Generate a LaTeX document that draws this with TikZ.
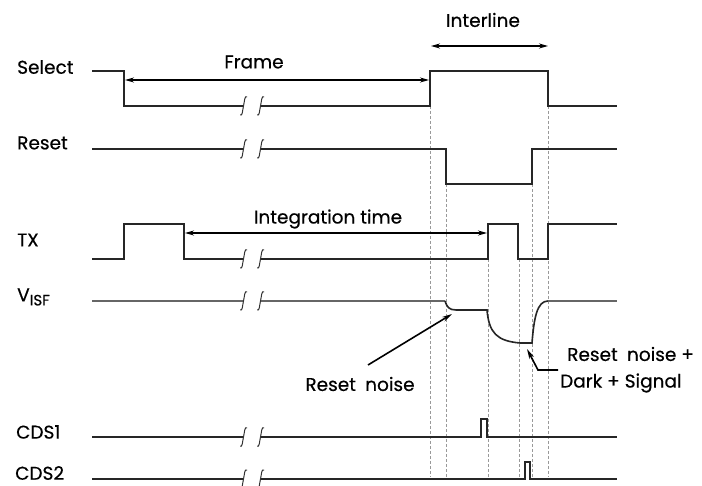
\documentclass[tikz,border=0pt]{standalone}
\usepackage{fontspec}
\setmainfont{Poppins}[FakeBold=0.4]
\usetikzlibrary{arrows.meta}
\begin{document}
\begin{tikzpicture}[x=1pt,y=-1pt,
  sig/.style={line width=1.7pt, draw=black!85, line join=miter},
  sigthick/.style={line width=2.2pt, draw=black!85},
  vsig/.style={line width=1.6pt, draw=black!60},
  vdark/.style={line width=1.6pt, draw=black!85},
  guide/.style={densely dashed, line width=0.5pt, draw=black!40},
  brkmark/.style={line width=1pt, draw=black!80},
  dim/.style={line width=1.3pt, draw=black, {Stealth[length=9pt,width=5pt]}-{Stealth[length=9pt,width=5pt]}},
  callout/.style={line width=1.6pt, draw=black, -{Stealth[length=10pt,width=5pt]}},
  lbl/.style={font=\fontsize{18.5}{21}\selectfont, inner sep=0pt, anchor=west},
  txt/.style={font=\fontsize{18.5}{21}\selectfont, inner sep=0pt}]
\useasboundingbox (0,0) rectangle (702,486);
\fill[white] (0,0) rectangle (702,486);

% break marks
\newcommand{\brkat}[1]{%
  \draw[brkmark] (240,#1+9) .. controls (242.5,#1+11) and (242.5,#1+4) .. (243.5,#1) .. controls (244.5,#1-4) and (244.5,#1-11) .. (247,#1-9);
  \draw[brkmark] (257,#1+9) .. controls (259.5,#1+11) and (259.5,#1+4) .. (260.5,#1) .. controls (261.5,#1-4) and (261.5,#1-11) .. (264,#1-9);}

% guide lines
\draw[guide] (430,106) -- (430,477);
\draw[guide] (446,184) -- (446,477);
\draw[guide] (488,259) -- (488,477);
\draw[guide] (519,259) -- (519,477);
\draw[guide] (532,184) -- (532,477);
\draw[guide] (548,106) -- (548,477);

% labels
\node[lbl] (lsel) at (17,67) {Select};
\node[lbl] (lrst) at (17,143) {Reset};
\node[lbl] (ltx) at (17,240) {TX};
\node[lbl] (lvisf) at (17,297) {V\raisebox{-0.4ex}{\fontsize{15}{17}\selectfont ISF}};
\node[lbl] (lcds1) at (16,432) {CDS1};
\node[lbl] (lcds2) at (15,473) {CDS2};

% Select
\draw[sig] (92,71) -- (124,71) -- (124,106) -- (243.5,106);
\draw[sig] (260.5,106) -- (430,106) -- (430,71) -- (548,71) -- (548,106) -- (617,106);
\brkat{106}
% Reset
\draw[sig] (92,149) -- (243.5,149);
\draw[sig] (260.5,149) -- (446,149) -- (446,184) -- (532,184) -- (532,149) -- (617,149);
\brkat{149}
% TX
\draw[sig] (92,259) -- (124,259) -- (124,224) -- (184,224) -- (184,259) -- (243.5,259);
\draw[sig] (260.5,259) -- (488,259) -- (488,224) -- (518,224) -- (518,259) -- (548,259) -- (548,224) -- (617,224);
\brkat{259}
% VISF
\draw[vsig] (92,301) -- (243.5,301);
\draw[vsig] (260.5,301) -- (445,301);
\draw[vdark] (445,301) .. controls (447,307) and (449,310) .. (456,310) -- (487,310)
  .. controls (489,333) and (497,341) .. (520,343) -- (532,343)
  .. controls (534,318) and (537,301) .. (548,301);
\draw[vsig] (548,301) -- (617,301);
\brkat{301}
% CDS1
\draw[sig] (92,437) -- (243.5,437);
\draw[sig] (260.5,437) -- (481,437) -- (481,419) -- (487,419) -- (487,437) -- (617,437);
\brkat{437}
% CDS2
\draw[sigthick] (92,479) -- (243.5,479);
\draw[sigthick] (260.5,479) -- (525,479) -- (525,462) -- (530,462) -- (530,479) -- (617,479);
\brkat{479}

% dimension arrows
\coordinate (fa) at (125,80); \coordinate (fb) at (429,80);
\draw[dim] (fa) -- (fb);
\node[txt] (tframe) at (254,62) {Frame};
\coordinate (ia) at (431,46); \coordinate (ib) at (548,46);
\draw[dim] (ia) -- (ib);
\node[txt] (tinter) at (483,20) {Interline};
\coordinate (ta) at (185,233); \coordinate (tb) at (487,233);
\draw[dim] (ta) -- (tb);
\node[txt] (tint) at (328,219) {Integration time};

% callouts
\node[txt] (trn) at (360,384) {Reset\hspace{0.5em}noise};
\coordinate (rnA) at (368,365); \coordinate (rnB) at (452,314);
\draw[callout] (rnA) -- (rnB);
\node[txt, anchor=west] (trn2) at (567,354) {Reset\hspace{0.5em}noise +};
\node[txt, anchor=west] (tds) at (560,383) {Dark + Signal};
\coordinate (dA) at (558,370); \coordinate (dB) at (538,370); \coordinate (dC) at (527,349);
\draw[callout] (dA) -- (dB) -- (dC);
\end{tikzpicture}
\end{document}
